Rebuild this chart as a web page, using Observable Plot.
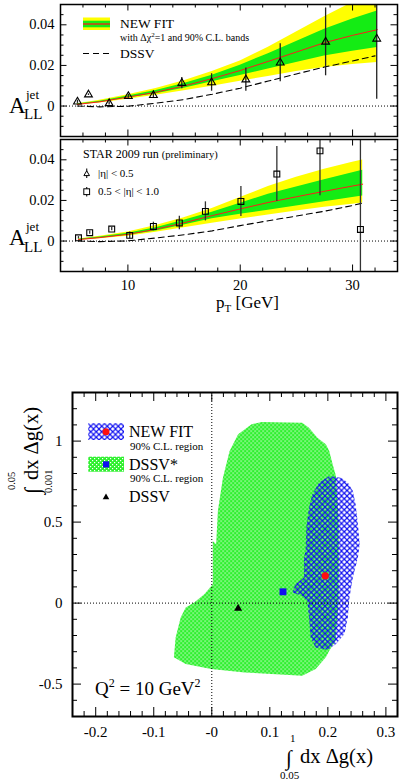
<!DOCTYPE html>
<html><head><meta charset="utf-8">
<script src="https://cdn.jsdelivr.net/npm/d3@7"></script>
<script src="https://cdn.jsdelivr.net/npm/@observablehq/plot@0.6"></script>
<style>
body{margin:0;background:#fff;}
#wrap{position:relative;width:405px;height:783px;overflow:hidden;font-family:"Liberation Serif","Times New Roman",serif;}
#wrap > svg{position:absolute;left:0;}
</style></head><body><div id="wrap"></div>
<script>
// ---------- Top panel: |eta| < 0.5 (triangles) ----------
const ptA  = [5.51, 6.49, 8.33, 10.04, 12.27, 14.8, 17.45, 20.5, 23.56, 27.6, 32.15];
const allA = [0.0021, 0.0056, 0.0013, 0.0048, 0.0053, 0.0113, 0.0116, 0.0130, 0.0213, 0.0316, 0.0331];
const errA = [0.0008, 0.0004, 0.0008, 0.0010, 0.0014, 0.0028, 0.0043, 0.0057, 0.0094, 0.0167, 0.0298];
const gridA    = [5.5, 7.5, 10, 12.5, 15, 17.5, 20, 22.5, 25, 27.5, 30, 32.2];
const fitA     = [0.0008, 0.0021, 0.0044, 0.0068, 0.0099, 0.0135, 0.0175, 0.0220, 0.0266, 0.0312, 0.0348, 0.0376];
const fitAgLo  = [0.0006, 0.0018, 0.0039, 0.0061, 0.0088, 0.0119, 0.0150, 0.0183, 0.0215, 0.0246, 0.0270, 0.0288];
const fitAgHi  = [0.0010, 0.0024, 0.0049, 0.0076, 0.0111, 0.0152, 0.0201, 0.0258, 0.0318, 0.0378, 0.0428, 0.0468];
const fitAyLo  = [0.0005, 0.0015, 0.0034, 0.0053, 0.0075, 0.0098, 0.0122, 0.0146, 0.0170, 0.0190, 0.0205, 0.0215];
const fitAyHi  = [0.0011, 0.0028, 0.0055, 0.0086, 0.0125, 0.0170, 0.0222, 0.0290, 0.0365, 0.0440, 0.0510, 0.0580];
const dssvApt  = [5.5, 7.5, 10, 12.5, 15, 17.5, 20, 22.5, 25, 27.5, 30, 32.0];
const dssvA    = [0.0000, -0.0004, -0.0001, 0.0014, 0.0032, 0.0058, 0.0088, 0.0123, 0.0158, 0.0192, 0.0222, 0.0247];

// ---------- Middle panel: 0.5 < |eta| < 1.0 (squares) ----------
const ptB  = [5.6, 6.6, 8.56, 10.16, 12.27, 14.58, 16.9, 20.06, 23.26, 27.1, 30.7];
const allB = [0.0016, 0.0041, 0.0059, 0.0028, 0.0072, 0.0089, 0.0146, 0.0195, 0.0330, 0.0444, 0.0057];
const errB = [0.0006, 0.0008, 0.0008, 0.0017, 0.0021, 0.0033, 0.0047, 0.0074, 0.0135, 0.0221, 0.0700];
const gridB    = [5.6, 7.5, 10, 12.5, 15, 17.5, 20, 22.5, 25, 27.5, 30, 30.9];
const fitB     = [0.0007, 0.0017, 0.0033, 0.0058, 0.0090, 0.0125, 0.0158, 0.0190, 0.0218, 0.0245, 0.0271, 0.0280];
const fitBgLo  = [0.0005, 0.0014, 0.0028, 0.0050, 0.0079, 0.0110, 0.0132, 0.0152, 0.0172, 0.0193, 0.0214, 0.0222];
const fitBgHi  = [0.0009, 0.0020, 0.0038, 0.0066, 0.0102, 0.0142, 0.0186, 0.0230, 0.0266, 0.0302, 0.0336, 0.0348];
const fitByLo  = [0.0004, 0.0011, 0.0023, 0.0043, 0.0065, 0.0087, 0.0108, 0.0128, 0.0148, 0.0166, 0.0181, 0.0187];
const fitByHi  = [0.0010, 0.0023, 0.0045, 0.0076, 0.0115, 0.0160, 0.0214, 0.0268, 0.0314, 0.0354, 0.0388, 0.0399];
const dssvBpt  = [5.6, 7.5, 10, 12.5, 15, 17.5, 20, 22.5, 25, 27.5, 30, 30.9];
const dssvB    = [0.0000, -0.0003, 0.0001, 0.0015, 0.0031, 0.0050, 0.0076, 0.0100, 0.0123, 0.0147, 0.0175, 0.0187];

// axis ticks (top/middle)
const ptTicksMajor = [10, 20, 30];
const ptTicksMinor = [4,6,8,12,14,16,18,22,24,26,28,32,34];
const allTicksMajor = [0, 0.02, 0.04];
const allTicksMinor = [-0.015,-0.01,-0.005,0.005,0.01,0.015,0.025,0.03,0.035,0.045,0.05];

// ---------- Bottom panel: truncated first moments ----------
const greenRegion = [
  [0.0075,0.364],[0.0105,0.569],[0.0192,0.774],[0.0307,0.939],[0.0454,1.042],[0.0686,1.104],
  [0.086,1.118],[0.1558,1.113],[0.1675,1.083],[0.182,1.021],[0.1965,0.980],[0.2024,0.939],
  [0.2082,0.857],[0.214,0.785],[0.2187,0.507],[0.2187,0.014],[0.2134,-0.232],[0.2024,-0.294],
  [0.1965,-0.335],[0.179,-0.407],[0.1558,-0.448],[0.0569,-0.428],[-0.0012,-0.407],[-0.0449,-0.376],
  [-0.0653,-0.335],[-0.0623,-0.212],[-0.0536,-0.089],[-0.0449,-0.027],[-0.0304,0.004],
  [-0.0129,0.055],[0.0017,0.117],[0.0017,0.384]
];
const blueRegion = [
  [0.2024,0.785],[0.2227,0.774],[0.2344,0.744],[0.2431,0.692],[0.2478,0.610],[0.2518,0.487],
  [0.2548,0.364],[0.2518,0.281],[0.2431,0.158],[0.2373,0.035],[0.2344,-0.089],[0.2286,-0.191],
  [0.214,-0.253],[0.1995,-0.290],[0.179,-0.274],[0.1703,-0.212],[0.1675,-0.089],[0.1646,0.014],
  [0.1558,0.045],[0.1384,0.065],[0.1442,0.117],[0.1588,0.158],[0.1588,0.281],[0.1616,0.322],
  [0.1628,0.466],[0.1675,0.589],[0.1733,0.672],[0.185,0.744]
];
const newFitPoint = [0.1955, 0.168];
const dssvStarPoint = [0.1227, 0.0697];
const dssvPoint = [0.0454, -0.033];
const momXMajor = [-0.2, -0.1, 0, 0.1, 0.2, 0.3];
const momXMinor = [-0.24,-0.22,-0.18,-0.16,-0.14,-0.12,-0.08,-0.06,-0.04,-0.02,0.02,0.04,0.06,0.08,0.12,0.14,0.16,0.18,0.22,0.24,0.26,0.28,0.32];
const momYMajor = [-0.5, 0, 0.5, 1];
const momYMinor = [-0.7,-0.6,-0.4,-0.3,-0.2,-0.1,0.1,0.2,0.3,0.4,0.6,0.7,0.8,0.9,1.1,1.2,1.3];

const YELLOW = "#ffff00", GREEN = "#14ec14", RED = "#ff1a1a";
const FONT = "'Liberation Serif','Times New Roman',serif";

function frameTicks(xMin, xMaj, yMin, yMaj, innerW, innerH, lMin, lMaj) {
  const o = {stroke: "#000", strokeWidth: 1};
  const m = [];
  for (const [v, l] of [[xMin, lMin], [xMaj, lMaj]]) {
    m.push(Plot.tickX(v, {...o, x: d => d, insetTop: innerH - l}));
    m.push(Plot.tickX(v, {...o, x: d => d, insetBottom: innerH - l}));
  }
  for (const [v, l] of [[yMin, lMin], [yMaj, lMaj]]) {
    m.push(Plot.tickY(v, {...o, y: d => d, insetRight: innerW - l}));
    m.push(Plot.tickY(v, {...o, y: d => d, insetLeft: innerW - l}));
  }
  return m;
}

function asymPanel(grid, fit, gLo, gHi, yLo, yHi, dpt, dval, pts, vals, errs, symbol, r, errColor, opts) {
  const band = grid.map((x, i) => ({x, fit: fit[i], gLo: gLo[i], gHi: gHi[i], yLo: yLo[i], yHi: yHi[i]}));
  const dssv = dpt.map((x, i) => ({x, y: dval[i]}));
  const data = pts.map((x, i) => ({x, y: vals[i], e: errs[i]}));
  const innerW = 405 - 60 - 8, innerH = opts.height - opts.marginTop - opts.marginBottom;
  return Plot.plot({
    width: 405, height: opts.height, marginLeft: 60, marginRight: 8,
    marginTop: opts.marginTop, marginBottom: opts.marginBottom,
    style: {fontFamily: FONT, fontSize: "14.5px", background: "transparent", overflow: "visible", color: "#000"},
    x: opts.showX
      ? {domain: [4, 34], ticks: ptTicksMajor, tickSize: 0, tickPadding: 8, label: null, tickFormat: d => String(d)}
      : {domain: [4, 34], axis: null},
    y: {domain: [-0.015, 0.05], ticks: allTicksMajor, tickSize: 0, tickPadding: 6, label: null,
        tickFormat: d => d === 0 ? "0" : d.toFixed(2)},
    marks: [
      Plot.ruleY([0], {stroke: "#000", strokeWidth: 1, strokeDasharray: "1,2"}),
      Plot.areaY(band, {x: "x", y1: "yLo", y2: "yHi", fill: YELLOW, clip: true}),
      Plot.areaY(band, {x: "x", y1: "gLo", y2: "gHi", fill: GREEN, clip: true}),
      Plot.line(band, {x: "x", y: "fit", stroke: RED, strokeWidth: 1, clip: true}),
      Plot.line(dssv, {x: "x", y: "y", stroke: "#000", strokeWidth: 1.1, strokeDasharray: "6,4", clip: true}),
      Plot.ruleX(data, {x: "x", y1: d => d.y - d.e, y2: d => d.y + d.e, stroke: errColor, strokeWidth: 1.3, clip: true}),
      Plot.dot(data, {x: "x", y: "y", symbol, r, stroke: "#000", fill: "none", strokeWidth: 1.1}),
      ...frameTicks(ptTicksMinor, ptTicksMajor, allTicksMinor, allTicksMajor, innerW, innerH, 3.5, 6.5),
      Plot.frame({stroke: "#000", strokeWidth: 1.5})
    ]
  });
}

const wrap = document.getElementById("wrap");

const p1 = asymPanel(gridA, fitA, fitAgLo, fitAgHi, fitAyLo, fitAyHi, dssvApt, dssvA, ptA, allA, errA,
  "triangle", 2.9, "#222", {height: 138, marginTop: 4, marginBottom: 2, showX: false});
p1.style.top = "0px";
wrap.appendChild(p1);

const p2 = asymPanel(gridB, fitB, fitBgLo, fitBgHi, fitByLo, fitByHi, dssvBpt, dssvB, ptB, allB, errB,
  "square", 3.3, "#333", {height: 180, marginTop: 5, marginBottom: 43, showX: true});
p2.style.top = "134px";
wrap.appendChild(p2);

// bottom panel
const gReg = greenRegion.map(([x, y]) => ({x, y}));
const bReg = blueRegion.map(([x, y]) => ({x, y}));
const fmtMom = d => d === 0 ? "-0" : String(d);
const p3 = Plot.plot({
  width: 405, height: 380, marginLeft: 72, marginRight: 8, marginTop: 12, marginBottom: 44,
  style: {fontFamily: FONT, fontSize: "15px", background: "transparent", overflow: "visible", color: "#000"},
  x: {domain: [-0.24, 0.32], ticks: momXMajor, tickSize: 0, tickPadding: 10, label: null, tickFormat: fmtMom},
  y: {domain: [-0.7, 1.3], ticks: momYMajor, tickSize: 0, tickPadding: 10, label: null, tickFormat: d => String(d)},
  marks: [
    Plot.line(gReg, {x: "x", y: "y", fill: "url(#hatchGreen)", stroke: "none"}),
    Plot.line(bReg, {x: "x", y: "y", fill: "url(#hatchBlue)", stroke: "none"}),
    Plot.ruleX([0], {stroke: "#000", strokeWidth: 1, strokeDasharray: "1,2"}),
    Plot.ruleY([0], {stroke: "#000", strokeWidth: 1, strokeDasharray: "1,2"}),
    Plot.dot([newFitPoint], {x: d => d[0], y: d => d[1], r: 3.6, fill: "#ff1010", stroke: "none"}),
    Plot.dot([dssvStarPoint], {x: d => d[0], y: d => d[1], symbol: "square", r: 3.9, fill: "#1010ee", stroke: "none"}),
    Plot.dot([dssvPoint], {x: d => d[0], y: d => d[1], symbol: "triangle", r: 3.0, fill: "#000", stroke: "none"}),
    ...frameTicks(momXMinor, momXMajor, momYMinor, momYMajor, 325, 324, 5, 9),
    Plot.frame({stroke: "#000", strokeWidth: 2})
  ]
});
p3.style.top = "380px";
wrap.appendChild(p3);

// overlay: pattern defs, legends and typeset axis titles
const ns = "http://www.w3.org/2000/svg";
const ov = document.createElementNS(ns, "svg");
ov.setAttribute("width", 405); ov.setAttribute("height", 783);
ov.style.top = "0px";
ov.setAttribute("font-family", "Liberation Serif, Times New Roman, serif");
ov.innerHTML = `
<defs>
  <pattern id="hatchGreen" width="4" height="4" patternUnits="userSpaceOnUse">
    <rect width="4" height="4" fill="#2ef02e"/>
    <rect x="0" y="0" width="1.2" height="1.2" fill="#fff"/>
    <rect x="2" y="2" width="1.2" height="1.2" fill="#fff"/>
  </pattern>
  <pattern id="hatchBlue" width="5.5" height="5.5" patternUnits="userSpaceOnUse">
    <path d="M0,0 L5.5,5.5 M5.5,0 L0,5.5" stroke="#1010f0" stroke-width="1.15" fill="none"/>
  </pattern>
</defs>
<g fill="#000">
  <text x="9" y="113" font-size="23">A</text>
  <text x="26" y="99" font-size="13">jet</text>
  <text x="24" y="119" font-size="15">LL</text>
  <text x="9" y="245" font-size="23">A</text>
  <text x="26" y="231" font-size="13">jet</text>
  <text x="24" y="252" font-size="15">LL</text>

  <rect x="83" y="17.5" width="27" height="12.5" fill="${YELLOW}"/>
  <rect x="83" y="20.7" width="27" height="6.6" fill="${GREEN}"/>
  <line x1="83" x2="110" y1="24" y2="24" stroke="${RED}" stroke-width="1.3"/>
  <text x="120" y="28.3" font-size="13.5">NEW FIT</text>
  <text x="120" y="41" font-size="10">with Δχ<tspan dy="-4" font-size="7">2</tspan><tspan dy="4">=1 and 90% C.L. bands</tspan></text>
  <line x1="83" x2="110" y1="53.5" y2="53.5" stroke="#000" stroke-width="1.1" stroke-dasharray="6,4"/>
  <text x="120" y="58" font-size="13.5">DSSV</text>

  <text x="83" y="157.5" font-size="12">STAR 2009 run <tspan font-size="10.5">(preliminary)</tspan></text>
  <line x1="86.7" x2="86.7" y1="168.5" y2="178" stroke="#222" stroke-width="1.2"/>
  <path d="M86.7,170.8 L89.5,175.6 L83.9,175.6 Z" fill="#fff" stroke="#000" stroke-width="1"/>
  <text x="98" y="176.5" font-size="11">|η| &lt; 0.5</text>
  <line x1="86.7" x2="86.7" y1="187" y2="196.5" stroke="#222" stroke-width="1.2"/>
  <rect x="83.8" y="188.8" width="5.8" height="5.8" fill="#fff" stroke="#000" stroke-width="1"/>
  <text x="98" y="194.5" font-size="11">0.5 &lt; |η| &lt; 1.0</text>

  <text x="216" y="308" font-size="17">p<tspan dy="4" font-size="11">T</tspan><tspan dy="-4"> [GeV]</tspan></text>

  <rect x="88.3" y="423.3" width="35.7" height="16.7" fill="url(#hatchBlue)"/>
  <circle cx="106" cy="431.7" r="3.5" fill="#ff1010"/>
  <text x="129" y="437" font-size="16">NEW FIT</text>
  <text x="130" y="449.5" font-size="11">90% C.L. region</text>
  <rect x="88.3" y="456.7" width="35.7" height="15" fill="url(#hatchGreen)"/>
  <rect x="103" y="461.3" width="6.2" height="6.2" fill="#1010ee"/>
  <text x="129" y="469.5" font-size="16">DSSV*</text>
  <text x="130" y="482" font-size="11">90% C.L. region</text>
  <path d="M106,493.5 L109.3,499.3 L102.7,499.3 Z" fill="#000"/>
  <text x="129" y="502" font-size="16">DSSV</text>

  <text x="95" y="695" font-size="19">Q<tspan dy="-8" font-size="12">2</tspan><tspan dy="8"> = 10 GeV</tspan><tspan dy="-8" font-size="12">2</tspan></text>

  <text x="286" y="765" font-size="21">∫</text>
  <text x="290" y="742" font-size="11">1</text>
  <text x="280" y="779" font-size="11">0.05</text>
  <text x="300" y="763" font-size="20.5">dx Δg(x)</text>

  <g transform="translate(38,494) rotate(-90)">
    <text x="0" y="2" font-size="22">∫</text>
    <text x="4" y="-23" font-size="10.5">0.05</text>
    <text x="1" y="14" font-size="10.5">0.001</text>
    <text x="14" y="0" font-size="20.5">dx Δg(x)</text>
  </g>
</g>`;
wrap.appendChild(ov);
</script></body></html>
